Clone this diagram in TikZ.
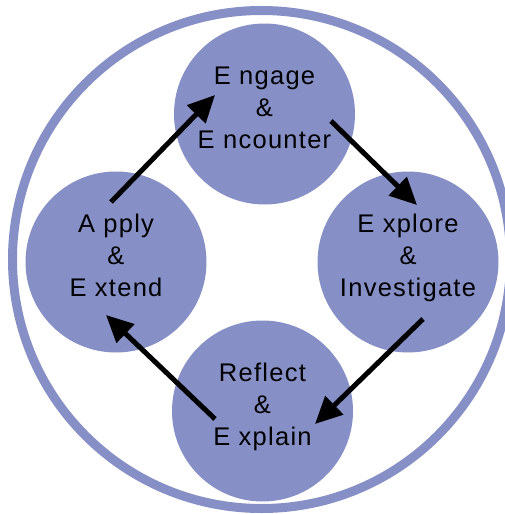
\documentclass[tikz,border=0pt]{standalone}
\usepackage{fontspec}
\setmainfont{Liberation Sans}[LetterSpace=5]
\usetikzlibrary{arrows.meta}
\definecolor{phasefill}{RGB}{134,144,198}
% uniform line strut so every label is centred on its middle line
\newcommand{\lnstrut}{\rule[-13pt]{0pt}{19pt}}
\tikzset{
  phase/.style={circle, fill=phasefill, draw=none, minimum size=181pt,
    inner sep=0pt, align=center, text=black,
    font={\fontsize{25.5}{32}\selectfont}},
  cyclearrow/.style={line width=5pt, draw=black,
    -{Triangle[length=27pt,width=25pt]}},
  ring/.style={draw=phasefill, line width=9pt}
}
\begin{document}
\begin{tikzpicture}[x=1pt,y=-1pt]
  \useasboundingbox (0,0) rectangle (505,514);
  \clip (0,0) rectangle (505,514);
  \fill[white] (0,0) rectangle (505,514);

  % outer ring
  \coordinate (hub) at (261.5,259.5);
  \draw[ring] (hub) circle[radius=249pt];

  % the four phases
  \node[phase] (engage)  at (264.5,114) {\lnstrut E ngage\\\lnstrut \&\\\lnstrut E ncounter};
  \node[phase] (explore) at (408,262)   {\lnstrut E xplore\\\lnstrut \&\\\lnstrut Investigate};
  \node[phase] (reflect) at (262.5,411) {\lnstrut Reflect\\\lnstrut \&\\\lnstrut E xplain};
  \node[phase] (apply)   at (116,262)   {\lnstrut A pply\\\lnstrut \&\\\lnstrut E xtend};

  % arrow end points inside the circles
  \coordinate (a1s) at ([shift={(-5,-60)}]apply.center);
  \coordinate (a1e) at ([shift={(-49.5,-19)}]engage.center);
  \coordinate (a2s) at ([shift={(66.5,7)}]engage.center);
  \coordinate (a2e) at ([shift={(9,-57)}]explore.center);
  \coordinate (a3s) at ([shift={(15,57)}]explore.center);
  \coordinate (a3e) at ([shift={(52.5,13)}]reflect.center);
  \coordinate (a4s) at ([shift={(-47.5,8)}]reflect.center);
  \coordinate (a4e) at ([shift={(-10,53)}]apply.center);

  % cycle arrows
  \draw[cyclearrow] (a1s) -- (a1e);
  \draw[cyclearrow] (a2s) -- (a2e);
  \draw[cyclearrow] (a3s) -- (a3e);
  \draw[cyclearrow] (a4s) -- (a4e);
\end{tikzpicture}
\end{document}
